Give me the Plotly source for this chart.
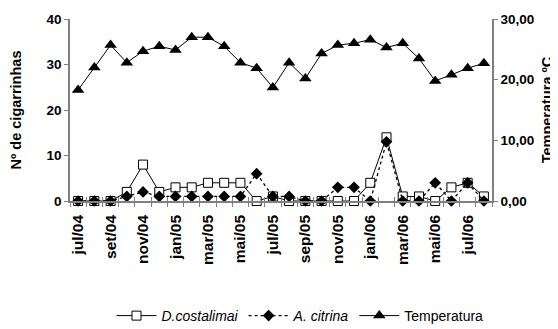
import plotly.graph_objects as go

months = ["jul/04", "ago/04", "set/04", "out/04", "nov/04", "dez/04",
          "jan/05", "fev/05", "mar/05", "abr/05", "mai/05", "jun/05",
          "jul/05", "ago/05", "sep/05", "out/05", "nov/05", "dez/05",
          "jan/06", "fev/06", "mar/06", "abr/06", "mai/06", "jun/06",
          "jul/06", "ago/06"]
tick_labels = ["jul/04", "set/04", "nov/04", "jan/05", "mar/05", "mai/05",
               "jul/05", "sep/05", "nov/05", "jan/06", "mar/06", "mai/06", "jul/06"]

costalimai = [0, 0, 0, 2, 8, 2, 3, 3, 4, 4, 4, 0, 1, 0, 0, 0, 0, 0, 4, 14, 1, 1, 0, 3, 4, 1]
citrina = [0, 0, 0, 1, 2, 1, 1, 1, 1, 1, 1, 6, 1, 1, 0, 0, 3, 3, 0, 13, 0, 0, 4, 0, 4, 0]
temperatura = [18.3, 22.0, 25.7, 22.8, 24.7, 25.5, 24.9, 27.0, 27.0, 25.5, 22.8, 21.9, 18.7,
               22.8, 20.2, 24.3, 25.7, 26.0, 26.6, 25.3, 26.0, 23.5, 19.8, 20.8, 21.9, 22.7]

idx = list(range(len(months)))
label_pos = [2 * i for i in range(len(tick_labels))]
boundaries = [i - 0.5 for i in range(len(months) + 1)]

AXC = "#808080"
FONT = "Liberation Sans, Arial, sans-serif"

fig = go.Figure()
fig.add_trace(go.Scatter(
    x=idx, y=costalimai, name="<i>D.costalimai</i>", mode="lines+markers",
    line=dict(color="black", width=1),
    marker=dict(symbol="square", size=9, color="white", line=dict(color="black", width=1)),
    cliponaxis=False))
fig.add_trace(go.Scatter(
    x=idx, y=citrina, name="<i>A. citrina</i>", mode="lines+markers",
    line=dict(color="black", width=1.3, dash="dot"),
    marker=dict(symbol="diamond", size=9, color="black"),
    cliponaxis=False))
fig.add_trace(go.Scatter(
    x=idx, y=temperatura, name="Temperatura", mode="lines+markers", yaxis="y2",
    line=dict(color="black", width=1),
    marker=dict(symbol="triangle-up", size=11, color="black"),
    cliponaxis=False))
# empty helper trace to activate the overlay axis used for inward ticks
fig.add_trace(go.Scatter(x=[], y=[], xaxis="x2", showlegend=False, hoverinfo="skip"))

# the page body adds an 8px offset, so the figure is sized to fit inside the window
fig.update_layout(
    width=550, height=321,
    margin=dict(l=62, r=66, t=11, b=128, autoexpand=False),
    paper_bgcolor="white", plot_bgcolor="white",
    separators=",.",
    font=dict(family=FONT, color="black", size=11),
    showlegend=True,
    legend=dict(orientation="h", x=0.545, xanchor="center", y=-0.632, yanchor="middle",
                font=dict(size=14, family=FONT), itemwidth=40, tracegroupgap=0),
    xaxis=dict(range=[-0.5, len(months) - 0.5], tickmode="array",
               tickvals=label_pos, ticktext=tick_labels, tickangle=-90,
               ticks="", showgrid=False, zeroline=False, automargin=False,
               ticklabelstandoff=6,
               showline=True, linecolor=AXC, linewidth=1.5,
               tickfont=dict(size=15.5, family=FONT, weight="bold"),
               minor=dict(tickmode="array", tickvals=boundaries, ticks="outside",
                          ticklen=4, tickcolor=AXC, tickwidth=1.2, showgrid=False)),
    xaxis2=dict(range=[-0.5, len(months) - 0.5], overlaying="x", anchor="y",
                tickmode="array", tickvals=boundaries, ticks="inside", ticklen=4,
                tickcolor=AXC, tickwidth=1.2, showticklabels=False, automargin=False,
                showgrid=False, zeroline=False, showline=False),
    yaxis=dict(range=[0, 40], tickvals=[0, 10, 20, 30, 40], ticks="outside", ticklen=4,
               tickcolor=AXC, tickwidth=1.2, showgrid=False, zeroline=False,
               showline=True, linecolor=AXC, linewidth=1.5, automargin=False,
               tickfont=dict(size=13.5, family=FONT, weight="bold"),
               title=dict(text="Nº de cigarrinhas", standoff=31,
                          font=dict(size=14.5, family=FONT, weight="bold"))),
    yaxis2=dict(range=[0, 30], tickvals=[0, 10, 20, 30], tickformat=".2f",
                overlaying="y", side="right", ticks="outside", ticklen=4,
                tickcolor=AXC, tickwidth=1.2, showgrid=False, zeroline=False,
                showline=True, linecolor=AXC, linewidth=1.5, automargin=False,
                tickfont=dict(size=13.5, family=FONT, weight="bold"),
                title=dict(text="Temperatura ºC", standoff=9,
                           font=dict(size=14.5, family=FONT, weight="bold"))),
)

fig.write_html("out.html")
